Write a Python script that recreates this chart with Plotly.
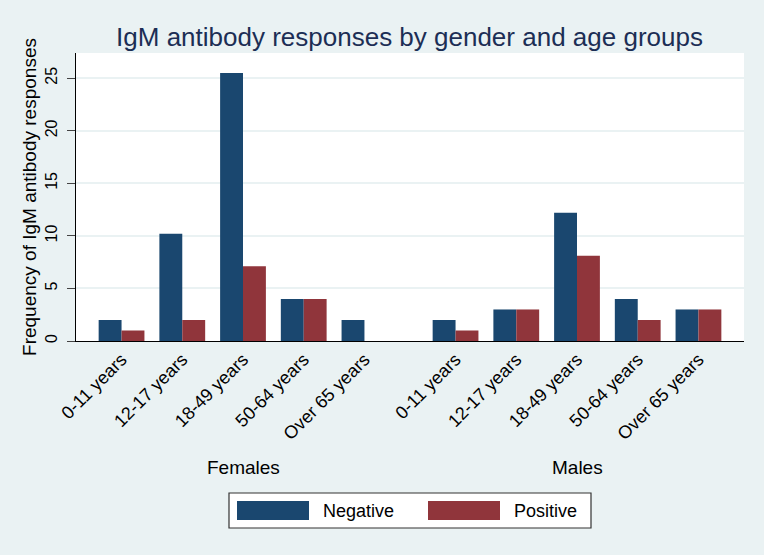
import plotly.graph_objects as go

ages = ["0-11 years", "12-17 years", "18-49 years", "50-64 years", "Over 65 years"]
genders = ["Females", "Males"]
negative = {"Females": [2, 10.2, 25.5, 4, 2], "Males": [2, 3, 12.2, 4, 3]}
positive = {"Females": [1, 2, 7.1, 4, 0], "Males": [1, 3, 8.1, 2, 3]}
series_names = ["Negative", "Positive"]

NAVY = "#1A476F"
MAROON = "#90353B"
BG = "#EAF2F3"
colors = [NAVY, MAROON]

group_gap = 1.5
xs, neg_y, pos_y, tickvals, ticktext, centers = [], [], [], [], [], []
offset = 0
for g in genders:
    pos = [offset + i for i in range(len(ages))]
    xs += pos
    neg_y += negative[g]
    pos_y += positive[g]
    tickvals += pos
    ticktext += ages
    centers.append(sum(pos) / len(pos))
    offset = pos[-1] + group_gap

fig = go.Figure()
for name, ys, col in zip(series_names, [neg_y, pos_y], colors):
    fig.add_trace(go.Bar(x=xs, y=ys, name=name, showlegend=False,
                         marker=dict(color=col, line=dict(width=0))))

for g, c in zip(genders, centers):
    fig.add_annotation(x=c, xref="x", y=-0.44, yref="paper", text=g, showarrow=False,
                       font=dict(size=19, color="black"), yanchor="middle")

# legend box (drawn to mimic the wide Stata legend keys)
W, H = 764, 555
ml, mr, mt, mb = 76, 20, 53, 214
pw, ph = W - ml - mr, H - mt - mb
px = lambda x: (x - ml) / pw
py = lambda y: (H - mb - y) / ph
fig.add_shape(type="rect", xref="paper", yref="paper", x0=px(229), x1=px(591), y0=py(528), y1=py(493),
              fillcolor="white", line=dict(color="#333333", width=1.2), layer="above")
key_x = [237, 428]
for name, col, kx in zip(series_names, colors, key_x):
    fig.add_shape(type="rect", xref="paper", yref="paper", x0=px(kx), x1=px(kx + 72), y0=py(520), y1=py(501),
                  fillcolor=col, line=dict(width=0), layer="above")
    fig.add_annotation(x=px(kx + 84), y=py(511), xref="paper", yref="paper", text=name, showarrow=False,
                       xanchor="left", yanchor="middle", font=dict(size=18, color="black"))

fig.update_layout(
    width=W, height=H,
    paper_bgcolor=BG, plot_bgcolor="white",
    font=dict(family="Liberation Sans, Arial, sans-serif", color="black"),
    title=dict(text="IgM antibody responses by gender and age groups", x=0.536, xanchor="center",
               y=1 - 37 / H, yanchor="middle", font=dict(size=26, color="#1C2E55")),
    margin=dict(l=ml, r=mr, t=mt, b=mb),
    barmode="group", bargap=0.246, bargroupgap=0,
    showlegend=False,
    xaxis=dict(range=[-0.75, 10.25], tickvals=tickvals, ticktext=ticktext, tickangle=-45,
               showgrid=False, zeroline=False, showline=True, linecolor="black", linewidth=1,
               ticks="", tickfont=dict(size=18)),
    yaxis=dict(range=[0, 27.4], tickvals=[0, 5, 10, 15, 20, 25], tickangle=-90,
               showgrid=True, gridcolor=BG, gridwidth=1.5, zeroline=False,
               showline=True, linecolor="black", linewidth=1, ticks="outside", ticklen=8,
               tickfont=dict(size=16), ticklabelstandoff=4,
               title=dict(text="Frequency of IgM antibody responses", font=dict(size=19), standoff=0)),
)

fig.write_html("out.html", config={"displayModeBar": False},
               post_script="document.body.style.margin='0';document.body.style.background='%s';" % BG)
